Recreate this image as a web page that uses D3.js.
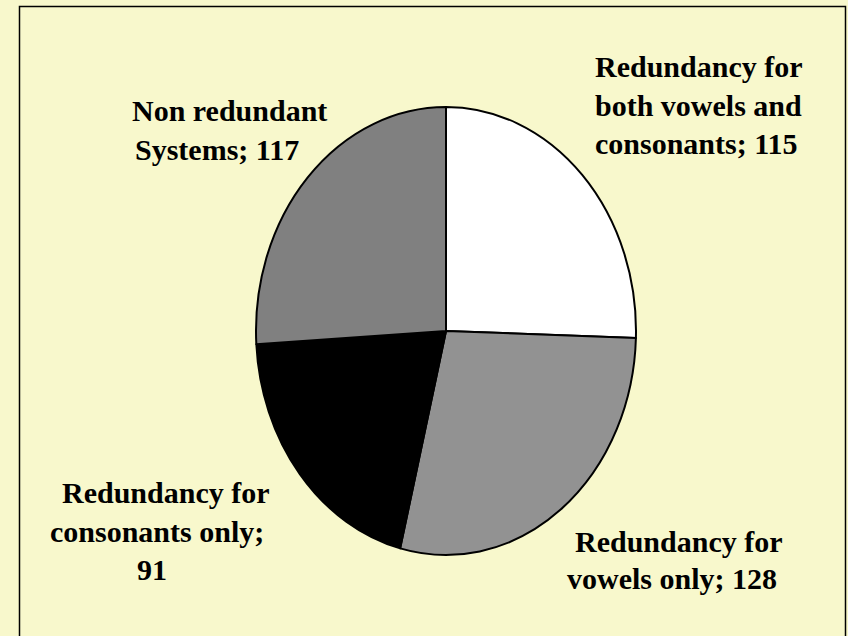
<!DOCTYPE html>
<meta charset="utf-8">
<head>
<script src="https://d3js.org/d3.v7.min.js"></script>
<style>
  body { margin: 0; background: #F8F8CC; }
</style>
</head>
<body>
<div id="chart"></div>
<script>

// data
var categories = ["Redundancy for both vowels and consonants", "Redundancy for vowels only",
                  "Redundancy for consonants only", "Non redundant Systems"];
var values = [115, 128, 91, 117];
var colors = ["#FFFFFF", "#929292", "#000000", "#808080"];

// label lines (text) for each slice
var labelLines = [
  ["Redundancy for", "both vowels and", "consonants; " + values[0]],
  ["Redundancy for", "vowels only; " + values[1]],
  ["Redundancy for", "consonants only;", "" + values[2]],
  ["Non redundant", "Systems; " + values[3]]
];

// where each label line starts (left x, baseline y)
var labelPos = [
  [[595, 77], [595, 116], [595, 154]],
  [[575, 552], [567, 589]],
  [[62, 503], [50, 542], [137, 580]],
  [[132, 121], [135, 160]]
];

var W = 848, H = 636;
var cx = 446, cy = 331, rx = 190, ry = 224;

var svg = d3.select("#chart").append("svg")
    .attr("width", W)
    .attr("height", H);

// background and frame
svg.append("rect")
    .attr("x", 0).attr("y", 0)
    .attr("width", W).attr("height", H)
    .style("fill", "#F8F8CC");

svg.append("rect")
    .attr("x", 19.5).attr("y", 6.5)
    .attr("width", 826).attr("height", 640)
    .style("fill", "none")
    .style("stroke", "#000")
    .style("stroke-width", 1.5);

// pie (drawn as circle, squashed into an ellipse)
var pie = d3.pie().sort(null).value(function(d) { return d; });
var arc = d3.arc().innerRadius(0).outerRadius(rx);

var g = svg.append("g")
    .attr("transform", "translate(" + cx + "," + cy + ") scale(1," + (ry / rx) + ")");

g.selectAll("path")
    .data(pie(values))
    .enter()
    .append("path")
    .attr("d", arc)
    .attr("vector-effect", "non-scaling-stroke")
    .style("fill", function(d, i) { return colors[i]; })
    .style("stroke", "#000")
    .style("stroke-width", 2)
    .style("stroke-linejoin", "round");

// labels
labelLines.forEach(function(lines, i) {
  lines.forEach(function(t, j) {
    svg.append("text")
      .attr("x", labelPos[i][j][0])
      .attr("y", labelPos[i][j][1])
      .style("font-family", "'Liberation Serif', 'Times New Roman', serif")
      .style("font-weight", "bold")
      .style("font-size", "30px")
      .style("fill", "#000")
      .text(t);
  });
});

</script>
</body>
